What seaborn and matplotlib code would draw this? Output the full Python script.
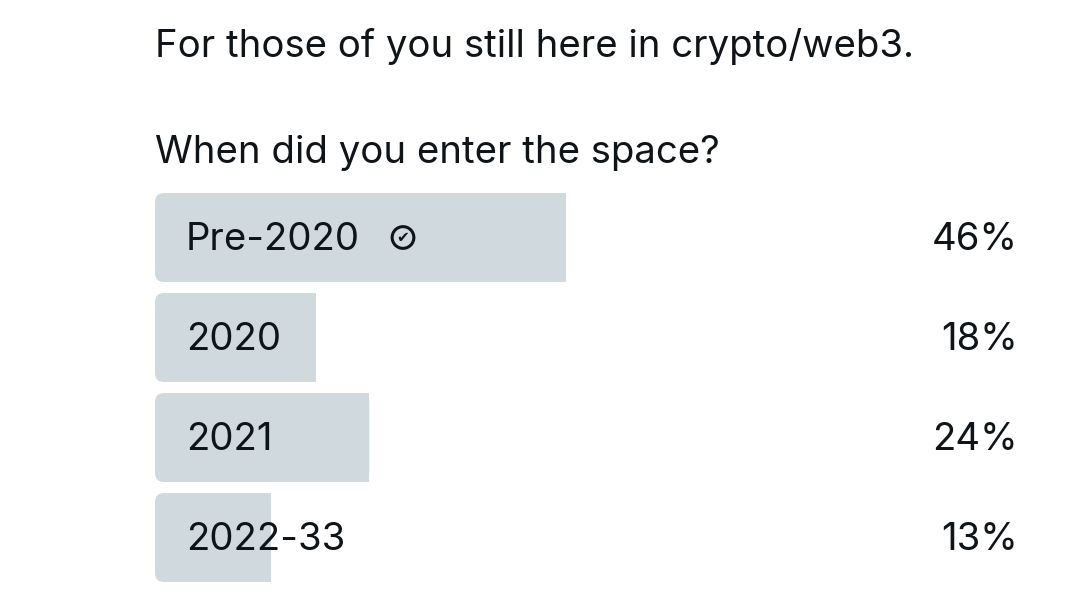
import matplotlib
matplotlib.use("Agg")
import matplotlib.pyplot as plt
import seaborn as sns
import pandas as pd
from matplotlib.patches import FancyBboxPatch

# poll data
options = ["Pre-2020", "2020", "2021", "2022-33"]
votes_pct = [46, 18, 24, 13]
pct_labels = ["46%", "18%", "24%", "13%"]
question_line1 = "For those of you still here in crypto/web3."
question_line2 = "When did you enter the space?"

df = pd.DataFrame({"option": options, "pct": votes_pct})

sns.set_theme(style="white")
plt.rcParams["font.family"] = ["Inter", "DejaVu Sans"]

bar_col = "#cfd9de"
txt_col = "#0f1419"

fig = plt.figure(figsize=(10.8, 6.06), dpi=100)
fig.patch.set_facecolor("white")

# axes in pixel terms: x 155..1048, y 187.5..587.5
W, H = 1080, 606
ax = fig.add_axes([155 / W, 1 - 587.5 / H, (1048 - 155) / W, 400 / H])
sns.barplot(data=df, x="pct", y="option", order=options, color=bar_col,
            width=0.89, saturation=1, ax=ax, orient="h")
ax.set_xlim(0, 100)
ax.set_ylim(3.5, -0.5)
ax.axis("off")

# round only the left corners: rounded box + flat rectangle over right side
px_x = 100 / (1048 - 155)
px_y = 4 / 400
r = 9 * px_x
for p in list(ax.patches):
    x0, y0 = p.get_x(), p.get_y()
    w, h = p.get_width(), p.get_height()
    p.set_edgecolor("none")
    p.set_x(x0 + r)
    p.set_width(w - r)
    rb = FancyBboxPatch((x0, y0), w, h,
                        boxstyle=f"round,pad=0,rounding_size={r}",
                        mutation_aspect=px_y / px_x,
                        facecolor=bar_col, edgecolor="none", zorder=p.get_zorder())
    ax.add_patch(rb)

fs = 27.6
for i, (opt, lab) in enumerate(zip(options, pct_labels)):
    ax.text(31 * px_x, i + 0.02, opt, ha="left", va="center", fontsize=fs,
            color=txt_col, zorder=5)
    ax.text((1018 - 155) * px_x, i + 0.02, lab, ha="right", va="center",
            fontsize=fs, color=txt_col, zorder=5)

# check mark next to the winning option
ax.text((403 - 155) * px_x, 0.0, "\u2714", ha="center", va="center",
        fontsize=11, color=txt_col, family="DejaVu Sans",
        zorder=6,
        bbox=dict(boxstyle="circle,pad=0.22", facecolor="none",
                  edgecolor=txt_col, linewidth=2.2))

fig.text(155 / W, 1 - 57 / H, question_line1, ha="left", va="baseline",
         fontsize=fs, color=txt_col)
fig.text(155 / W, 1 - 163 / H, question_line2, ha="left", va="baseline",
         fontsize=fs, color=txt_col)

fig.savefig("out.png", dpi=100, facecolor="white")
